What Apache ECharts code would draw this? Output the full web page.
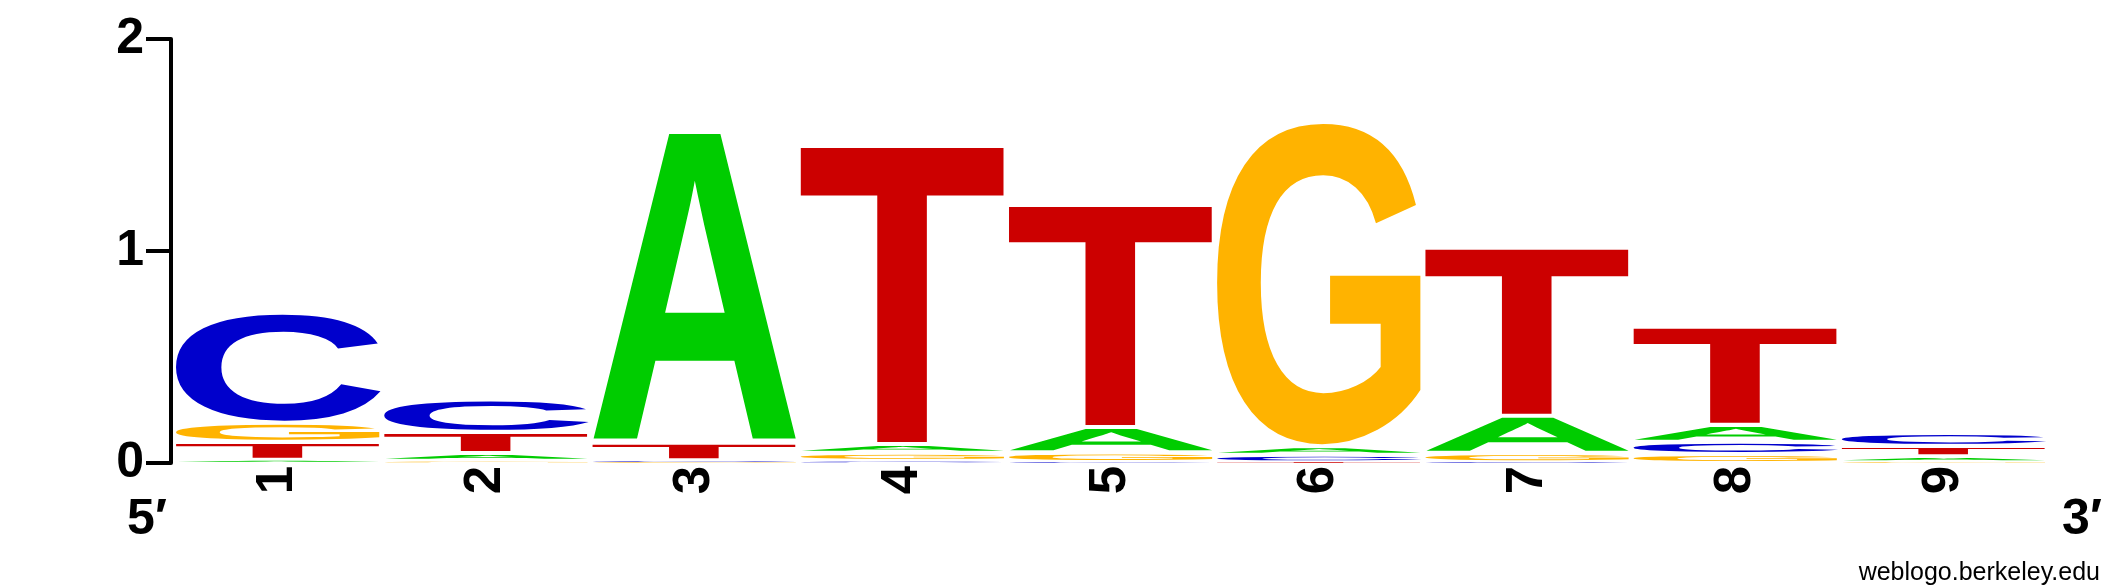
<!DOCTYPE html>
<html>
<head>
<meta charset="utf-8">
<script src="https://cdn.jsdelivr.net/npm/echarts@6/dist/echarts.min.js"></script>
<style>
html,body{margin:0;padding:0;background:#ffffff;}
#chart{width:2125px;height:588px;}
</style>
</head>
<body>
<div id="chart"></div>
<script>
// ---------- data ----------
const positions = ['1', '2', '3', '4', '5', '6', '7', '8', '9'];
const letters = ['A', 'C', 'G', 'T'];
// letter heights (bits) per position
const heightA = [0.015, 0.037, 1.470, 0.042, 0.120, 0.040, 0.176, 0.080, 0.027];
const heightC = [0.520, 0.153, 0.010, 0.010, 0.005, 0.036, 0.004, 0.057, 0.061];
const heightG = [0.090, 0.010, 0.003, 0.038, 0.045, 1.533, 0.043, 0.043, 0.005];
const heightT = [0.085, 0.100, 0.083, 1.420, 1.057, 0.003, 0.800, 0.467, 0.049];
const yTicks = [0, 1, 2];

// ---------- styles ----------
const letterColors = { A: '#00CC00', C: '#0000CC', G: '#FFB300', T: '#CC0000' };
const FAMILY = '"Liberation Sans", Arial, Helvetica, sans-serif';
const GLYPH_FONT = 'bold 200px ' + FAMILY;

const heightsByLetter = { A: heightA, C: heightC, G: heightG, T: heightT };

// measure ink boxes of glyphs so they can be stretched to fill their slot
const cv = document.createElement('canvas');
const ctx = cv.getContext('2d');
ctx.font = GLYPH_FONT;
ctx.textBaseline = 'middle';
ctx.textAlign = 'left';
const metrics = {};
letters.forEach(function (L) {
  const m = ctx.measureText(L);
  metrics[L] = {
    l: m.actualBoundingBoxLeft, r: m.actualBoundingBoxRight,
    a: m.actualBoundingBoxAscent, d: m.actualBoundingBoxDescent
  };
});

// stack letters per column, smallest at the bottom
const stackData = [];
positions.forEach(function (p, i) {
  const items = letters.map(function (L, k) { return { k: k, h: heightsByLetter[L][i] }; });
  items.sort(function (a, b) { return a.h - b.h; });
  let base = 0;
  items.forEach(function (it) {
    stackData.push([i, base, base + it.h, it.k]);
    base += it.h;
  });
});

function renderLetter(params, api) {
  const col = api.value(0), y0 = api.value(1), y1 = api.value(2), k = api.value(3);
  const L = letters[k];
  const pB = api.coord([col, y0]);
  const pT = api.coord([col, y1]);
  const bandW = api.size([1, 0])[0];
  const padX = 1.7;
  const x0 = pB[0] - bandW / 2 + padX;
  const w = bandW - 2 * padX;
  const hPx = pB[1] - pT[1];
  const inset = Math.min(2, hPx * 0.3);
  let top = pT[1] + inset;
  let h = hPx - 2 * inset;
  if (h < 0.7) { top -= (0.7 - h) / 2; h = 0.7; }
  const m = metrics[L];
  const sx = w / (m.l + m.r);
  const sy = h / (m.a + m.d);
  return {
    type: 'text',
    x: x0 + m.l * sx,
    y: top + m.a * sy,
    scaleX: sx,
    scaleY: sy,
    style: {
      text: L,
      font: GLYPH_FONT,
      fill: letterColors[L],
      align: 'left',
      verticalAlign: 'middle'
    }
  };
}

const chart = echarts.init(document.getElementById('chart'), null, { renderer: 'canvas' });
chart.setOption({
  animation: false,
  backgroundColor: '#ffffff',
  grid: { left: 174, right: 77, top: 39, bottom: 125, containLabel: false },
  xAxis: {
    type: 'category',
    data: positions,
    boundaryGap: true,
    axisLine: { show: false },
    axisTick: { show: false },
    splitLine: { show: false },
    axisLabel: {
      rotate: 90,
      margin: 3,
      color: '#000',
      fontFamily: FAMILY,
      fontWeight: 'bold',
      fontSize: 51
    }
  },
  yAxis: {
    type: 'value',
    min: yTicks[0],
    max: yTicks[yTicks.length - 1],
    interval: 1,
    offset: 3,
    axisLine: { show: true, lineStyle: { color: '#000', width: 4 } },
    axisTick: { show: true, inside: false, length: 25, lineStyle: { color: '#000', width: 4 } },
    splitLine: { show: false },
    axisLabel: {
      margin: 27,
      color: '#000',
      fontFamily: FAMILY,
      fontWeight: 'bold',
      fontSize: 50
    }
  },
  graphic: [
    { type: 'text', x: 147, y: 520, style: { text: '5\u2032', font: 'bold 50px ' + FAMILY, fill: '#000', align: 'center', verticalAlign: 'middle', textAlign: 'center', textVerticalAlign: 'middle' } },
    { type: 'text', x: 2082, y: 520, style: { text: '3\u2032', font: 'bold 50px ' + FAMILY, fill: '#000', align: 'center', verticalAlign: 'middle', textAlign: 'center', textVerticalAlign: 'middle' } },
    { type: 'text', x: 2100, y: 573, style: { text: 'weblogo.berkeley.edu', font: '25px ' + FAMILY, fill: '#000', align: 'right', verticalAlign: 'middle', textAlign: 'right', textVerticalAlign: 'middle' } }
  ],
  series: [{
    type: 'custom',
    coordinateSystem: 'cartesian2d',
    renderItem: renderLetter,
    encode: { x: 0, y: [1, 2] },
    data: stackData,
    silent: true
  }]
});
</script>
</body>
</html>
